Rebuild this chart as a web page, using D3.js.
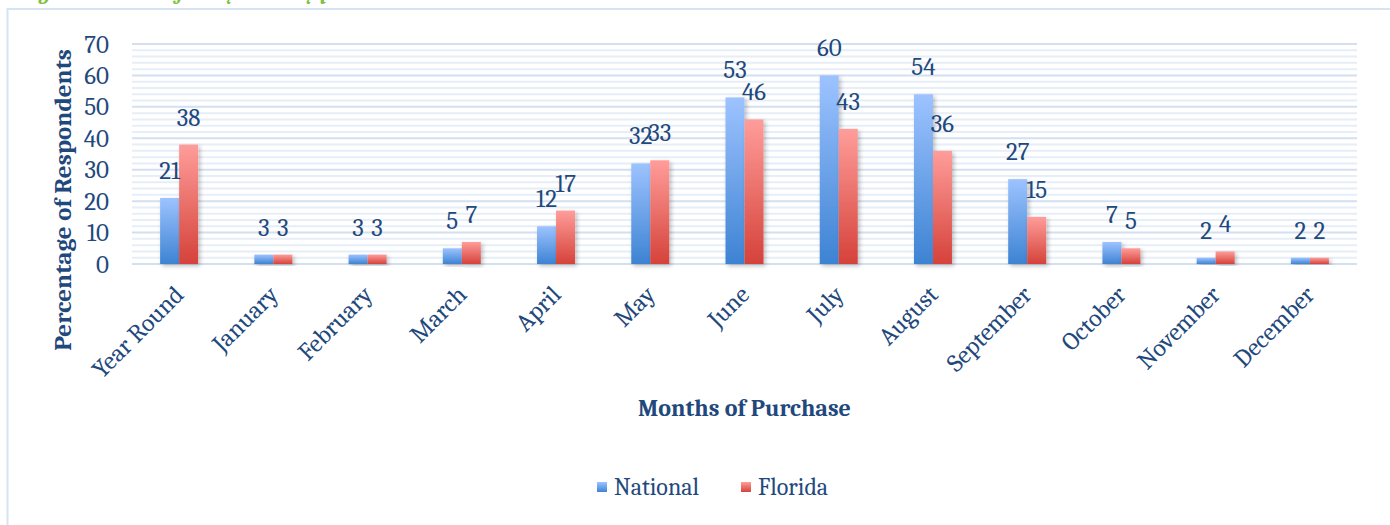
<!DOCTYPE html>
<html lang="en">
<head>
<meta charset="utf-8">
<title>Months of Purchase</title>
<script src="https://cdn.jsdelivr.net/npm/d3@7"></script>
<style>
  body { margin: 0; background: #fff; }
  text { font-family: Cambria, "Liberation Serif", "DejaVu Serif", serif; fill: #1F497D; }
</style>
</head>
<body>
<script>
// data
var months = ["Year Round","January","February","March","April","May","June","July","August","September","October","November","December"];
var series = ["National","Florida"];
var national = [21,3,3,5,12,32,53,60,54,27,7,2,2];
var florida = [38,3,3,7,17,33,46,43,36,15,5,4,2];
var yTicks = [0,10,20,30,40,50,60,70];
var minorTicks = d3.range(0, 71, 2);

var W = 1390, H = 525;
var svg = d3.select("body").append("svg").attr("width", W).attr("height", H);

var defs = svg.append("defs");
function grad(id, c1, c2) {
  var g = defs.append("linearGradient").attr("id", id)
    .attr("x1", 0).attr("y1", 0).attr("x2", 0).attr("y2", 1);
  g.append("stop").attr("offset", "0%").attr("stop-color", c1);
  g.append("stop").attr("offset", "100%").attr("stop-color", c2);
}
grad("gBlue", "#9DC3FF", "#3D83D3");
grad("gRed", "#FF9D9A", "#D5423A");
var sh = defs.append("filter").attr("id", "shadow").attr("x", "-20%").attr("y", "-5%").attr("width", "150%").attr("height", "120%");
sh.append("feDropShadow").attr("dx", 2).attr("dy", 2).attr("stdDeviation", 2).attr("flood-color", "#000").attr("flood-opacity", 0.25);

// green caption, mostly cut off at the top
svg.append("text").attr("x", 20).attr("y", -1)
  .style("fill", "#7DC142").style("font-style", "italic").style("font-weight", "bold")
  .attr("font-size", 22).text("Figure 4. Time of the year they purchase");

// chart frame
svg.append("rect").attr("x", 7.5).attr("y", 9).attr("width", 1400).attr("height", 600)
  .attr("fill", "white").attr("stroke", "#D6E3F3").attr("stroke-width", 2);

var pLeft = 132, pRight = 1357, pTop = 44, pBottom = 264;
var x0 = d3.scaleBand().domain(months).range([pLeft, pRight]);
var bw = x0.bandwidth();
var x1 = d3.scaleBand().domain(series).range([bw / 2 - 19, bw / 2 + 19]);
var y = d3.scaleLinear().domain([0, 70]).range([pBottom, pTop]);

// gridlines
svg.append("g").selectAll("line").data(minorTicks.filter(function(d){ return d % 10 != 0; }))
  .join("line")
  .attr("x1", pLeft).attr("x2", pRight)
  .attr("y1", function(d){ return y(d); }).attr("y2", function(d){ return y(d); })
  .attr("stroke", "#E6EEF8").attr("stroke-width", 2);
svg.append("g").selectAll("line").data(yTicks)
  .join("line")
  .attr("x1", pLeft).attr("x2", pRight)
  .attr("y1", function(d){ return y(d); }).attr("y2", function(d){ return y(d); })
  .attr("stroke", "#D3E0F1").attr("stroke-width", 2);

// y axis labels
var yAxis = svg.append("g").attr("transform", "translate(" + (pLeft - 23) + ",0)")
  .call(d3.axisLeft(y).tickValues(yTicks).tickSize(0).tickPadding(0));
yAxis.select(".domain").remove();
yAxis.selectAll("text").attr("font-size", 25).attr("font-family", null).style("fill", "#1F497D");

// bars
var rows = months.map(function(m, i){ return {m: m, v: [national[i], florida[i]]}; });
var grp = svg.append("g").selectAll("g").data(rows).join("g")
  .attr("transform", function(d){ return "translate(" + x0(d.m) + ",0)"; });
grp.selectAll("rect").data(function(d){ return d.v.map(function(v, j){ return {s: series[j], v: v}; }); })
  .join("rect")
  .attr("x", function(d){ return x1(d.s); })
  .attr("width", x1.bandwidth())
  .attr("y", function(d){ return y(d.v); })
  .attr("height", function(d){ return y(0) - y(d.v); })
  .attr("fill", function(d){ return d.s == "National" ? "url(#gBlue)" : "url(#gRed)"; })
  .attr("filter", "url(#shadow)");
grp.selectAll("text").data(function(d){ return d.v.map(function(v, j){ return {s: series[j], v: v}; }); })
  .join("text")
  .attr("x", function(d){ return x1(d.s) + x1.bandwidth() / 2; })
  .attr("y", function(d){ return y(d.v) - 19; })
  .attr("text-anchor", "middle")
  .attr("font-size", 25)
  .text(function(d){ return d.v; });

// x axis labels
var xAxis = svg.append("g").attr("transform", "translate(0," + pBottom + ")")
  .call(d3.axisBottom(x0).tickSize(0).tickPadding(0));
xAxis.select(".domain").remove();
xAxis.selectAll("text")
  .attr("font-size", 25).attr("font-family", null).style("fill", "#1F497D")
  .attr("text-anchor", "end")
  .attr("dy", "0.35em")
  .attr("transform", "translate(0,26) rotate(-45)");

// axis titles
svg.append("text").attr("x", (pLeft + pRight) / 2).attr("y", 416)
  .attr("text-anchor", "middle").attr("font-size", 24).attr("font-weight", "bold")
  .text("Months of Purchase");
svg.append("text").attr("transform", "translate(71," + 200 + ") rotate(-90)")
  .attr("text-anchor", "middle").attr("font-size", 25).attr("font-weight", "bold")
  .text("Percentage of Respondents");

// legend
var legend = svg.append("g").attr("transform", "translate(597,487)");
var lg = legend.selectAll("g").data(series).join("g")
  .attr("transform", function(d, i){ return "translate(" + (i * 144) + ",0)"; });
lg.append("rect").attr("x", 0).attr("y", -5).attr("width", 10).attr("height", 10)
  .attr("fill", function(d){ return d == "National" ? "url(#gBlue)" : "url(#gRed)"; });
lg.append("text").attr("x", 17).attr("y", 0).attr("dy", "0.35em").attr("font-size", 24)
  .text(function(d){ return d; });
</script>
</body>
</html>
